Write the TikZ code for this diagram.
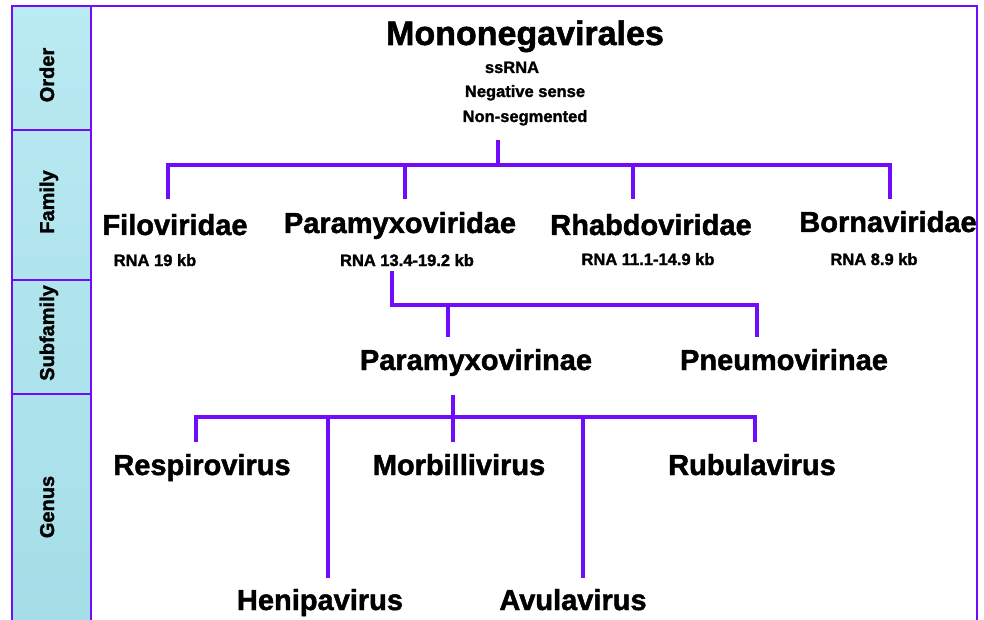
\documentclass[tikz,border=0pt]{standalone}
\usepackage{fontspec}
\setmainfont{Liberation Sans}[BoldFeatures={FakeBold=1.6}]
\definecolor{vio}{RGB}{112,12,250}
\definecolor{panelblue}{RGB}{165,222,232}
\definecolor{paneltop}{RGB}{186,234,242}
\begin{document}
\begin{tikzpicture}[x=1pt,y=-1pt,
  conn/.style={draw=vio, line width=3.6pt},
  frame/.style={draw=vio, line width=2.4pt},
  big/.style={font=\bfseries\fontsize{34}{34}\selectfont, anchor=base, inner sep=0pt},
  lbl/.style={font=\bfseries\fontsize{29}{29}\selectfont, anchor=base, inner sep=0pt},
  sm/.style={font=\bfseries\fontsize{16.5}{16.5}\selectfont, anchor=base, inner sep=0pt},
  rank/.style={font=\bfseries\fontsize{20}{20}\selectfont, anchor=base, rotate=90, inner sep=0pt}]
\fill[white] (0,0) rectangle (984,620);
\useasboundingbox (0,0) rectangle (984,620);
% left rank panel
\shade[top color=paneltop, bottom color=panelblue] (12,6) rectangle (91,620);
\draw[frame] (12,620) -- (12,6) -- (977,6) -- (977,620);
\draw[frame] (91,6) -- (91,620);
\draw[frame] (12,130) -- (91,130);
\draw[frame] (12,280) -- (91,280);
\draw[frame] (12,394) -- (91,394);
\node[rank] (rOrder) at (54,75) {Order};
\node[rank] (rFamily) at (54,202) {Family};
\node[rank] (rSub) at (54,333) {Subfamily};
\node[rank] (rGenus) at (54,507) {Genus};
% order
\node[big] (order) at (525,45) {Mononegavirales};
\node[sm] (ss) at (512,73) {ssRNA};
\node[sm] (neg) at (525,97) {Negative sense};
\node[sm] (nonseg) at (525,122) {Non-segmented};
% families
\node[lbl] (filo) at (175,235) {Filoviridae};
\node[lbl] (para) at (400,233) {Paramyxoviridae};
\node[lbl] (rhab) at (651,235) {Rhabdoviridae};
\node[lbl] (borna) at (888,232) {Bornaviridae};
\node[sm] (filoR) at (155,266) {RNA 19 kb};
\node[sm] (paraR) at (407,266) {RNA 13.4-19.2 kb};
\node[sm] (rhabR) at (648,265) {RNA 11.1-14.9 kb};
\node[sm] (bornaR) at (874,265) {RNA 8.9 kb};
% subfamilies
\node[lbl] (pmv) at (476,370) {Paramyxovirinae};
\node[lbl] (pnv) at (784,370) {Pneumovirinae};
% genera
\node[lbl] (resp) at (202,475) {Respirovirus};
\node[lbl] (morb) at (459,475) {Morbillivirus};
\node[lbl] (rubu) at (752,475) {Rubulavirus};
\node[lbl] (heni) at (320,610) {Henipavirus};
\node[lbl] (avul) at (573,610) {Avulavirus};
% junction coordinates
\coordinate (oTop) at (498,140);
\coordinate (oBus) at (498,165);
\coordinate (fBusL) at (168,165);
\coordinate (fBusR) at (890,165);
\coordinate (fFilo) at (168,199);
\coordinate (fPara) at (405,199);
\coordinate (fRhab) at (633,199);
\coordinate (fBorna) at (890,199);
\coordinate (pTop) at (392,271);
\coordinate (pBusL) at (392,305);
\coordinate (pBusR) at (757,305);
\coordinate (sPmv) at (448,337);
\coordinate (sPnv) at (757,337);
\coordinate (gTop) at (453,395);
\coordinate (gBusL) at (196,417);
\coordinate (gBusR) at (755,417);
\coordinate (gResp) at (196,442);
\coordinate (gHeni) at (328,578);
\coordinate (gMorb) at (453,442);
\coordinate (gAvul) at (583,578);
\coordinate (gRubu) at (755,442);
% order to families
\draw[conn] (oTop) -- (oBus);
\draw[conn] (fFilo) -- (fBusL) -- (fBusR) -- (fBorna);
\draw[conn] (fPara |- oBus) -- (fPara);
\draw[conn] (fRhab |- oBus) -- (fRhab);
% paramyxoviridae to subfamilies
\draw[conn] (pTop) -- (pBusL) -- (pBusR) -- (sPnv);
\draw[conn] (sPmv |- pBusL) -- (sPmv);
% paramyxovirinae to genera
\draw[conn] (gTop) -- (gTop |- gBusL);
\draw[conn] (gResp) -- (gBusL) -- (gBusR) -- (gRubu);
\draw[conn] (gHeni |- gBusL) -- (gHeni);
\draw[conn] (gMorb |- gBusL) -- (gMorb);
\draw[conn] (gAvul |- gBusL) -- (gAvul);
\end{tikzpicture}
\end{document}
